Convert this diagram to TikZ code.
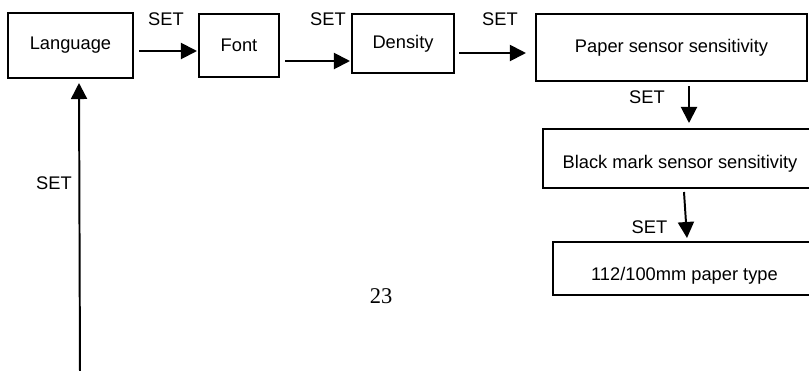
\documentclass[tikz,border=0pt]{standalone}
\usepackage{fontspec}
\setmainfont{Liberation Sans}
\newfontfamily\pagenumfont{Liberation Serif}
\usepackage{tikz}
\usetikzlibrary{arrows.meta, calc}

\begin{document}
\begin{tikzpicture}[x=0.025cm, y=-0.025cm,
		menubox/.style={draw, line width=1pt, inner sep=0pt, outer sep=0pt, font=\fontsize{13}{15}\selectfont},
		setarrow/.style={line width=1.4pt, -{Triangle[length=4mm, width=4mm]}},
		setlabel/.style={font=\fontsize{13}{15}\selectfont, inner sep=0pt}]
		\useasboundingbox (0,0) rectangle (809,370);
		\clip (0,0) rectangle (809,370);
		\node[menubox, minimum width=3.125cm, minimum height=1.625cm] (lang) at (70.5,45.5) {Language};
		\node[menubox, minimum width=2cm, minimum height=1.575cm] (font) at (239,45.5) {Font};
		\node[menubox, minimum width=2.55cm, minimum height=1.475cm] (dens) at (403,43.5) {Density};
		\node[menubox, minimum width=6.775cm, minimum height=1.675cm] (paper) at (671.5,47.5) {Paper sensor sensitivity};
		\node[menubox, minimum width=6.85cm, minimum height=1.475cm, text height=5.8mm, text depth=1mm] (black) at (680,158.5) {Black mark sensor sensitivity};
		\node[menubox, minimum width=6.575cm, minimum height=1.325cm, text height=6.8mm, text depth=1mm] (type) at (684.5,268.5) {112/100mm paper type};
		\coordinate (setin) at (80,375);
		\draw[setarrow] ($(lang.east)+(6,5.5)$) -- ($(font.west)+(-2,5.5)$);
		\draw[setarrow] ($(font.east)+(6,15.5)$) -- ($(dens.west)+(-2,17.5)$);
		\draw[setarrow] ($(dens.east)+(5,9.5)$) -- ($(paper.west)+(-10,5.5)$);
		\draw[setarrow] ($(paper.south)+(17.5,5)$) -- ($(black.north)+(9,-6)$);
		\draw[setarrow] ($(black.south)+(4,4)$) -- ($(type.north)+(2.5,-4)$);
		\draw[setarrow] (setin) -- ($(lang.south)+(8.5,5)$);
		\node[setlabel] (set1) at (166,19) {SET};
		\node[setlabel] (set2) at (328,19) {SET};
		\node[setlabel] (set3) at (500,19) {SET};
		\node[setlabel] (set4) at (647,97) {SET};
		\node[setlabel] (set5) at (649.5,227) {SET};
		\node[setlabel] (set6) at (54,183) {SET};
		\node[font=\pagenumfont\fontsize{16}{18}\selectfont, inner sep=0pt] (pagenum) at (381,296) {23};
		\end{tikzpicture}
\end{document}
